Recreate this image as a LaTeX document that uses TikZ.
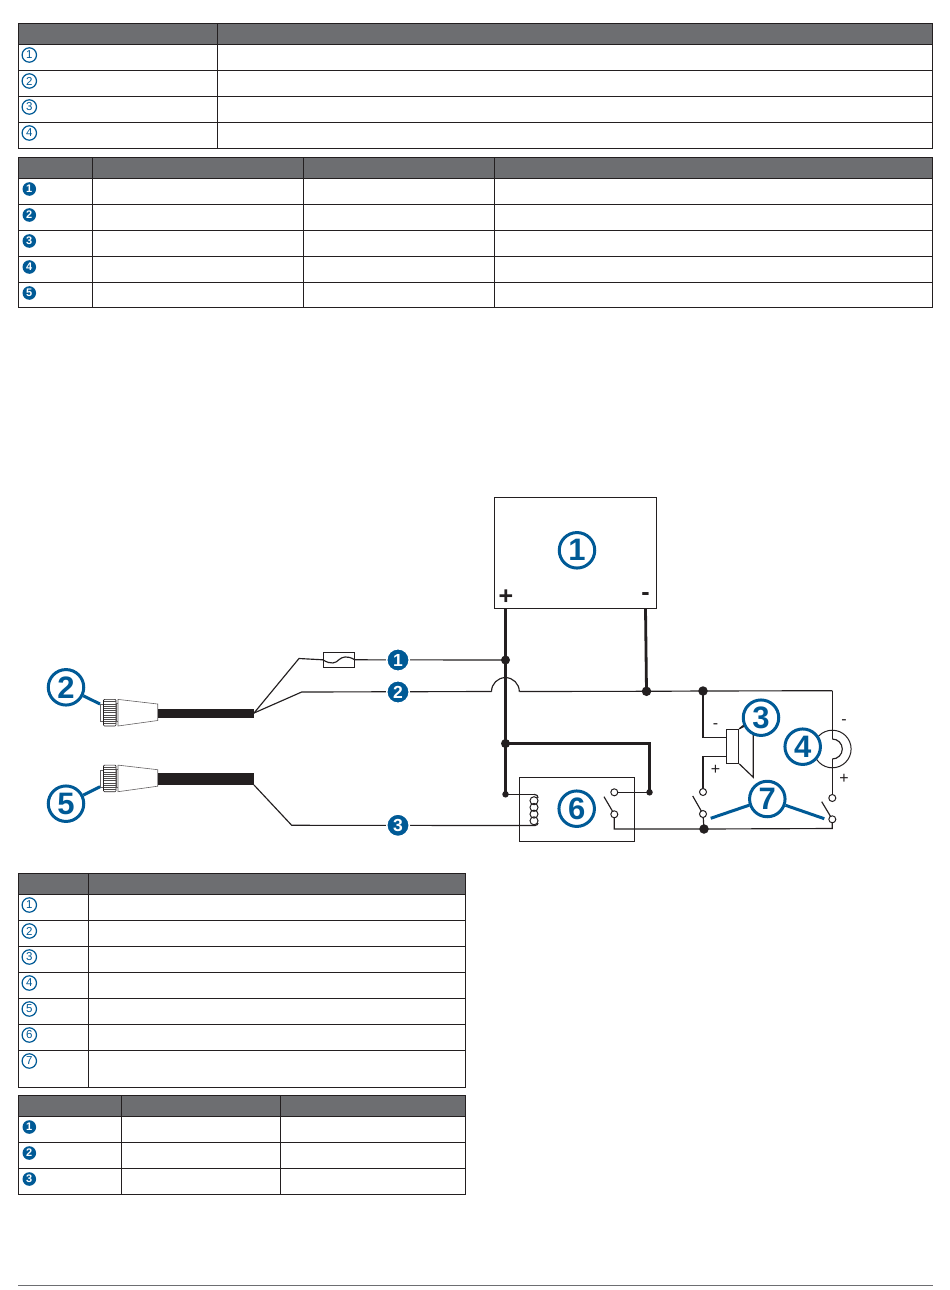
\documentclass[tikz,border=0pt]{standalone}
\usepackage{fontspec}
\setmainfont{Liberation Sans}
\definecolor{hdr}{HTML}{6D6E71}
\definecolor{ink}{HTML}{231F20}
\definecolor{gblue}{HTML}{005A96}
\tikzset{
  rule/.style={draw=ink,line width=0.9pt},
  head/.style={fill=hdr,draw=ink,line width=0.9pt},
  wirethin/.style={draw=ink,line width=1.15pt},
  wirethick/.style={draw=ink,line width=3.1pt},
  jdot/.style={circle,fill=ink,inner sep=0pt,minimum size=9pt},
  jbig/.style={circle,fill=ink,inner sep=0pt,minimum size=9.5pt},
  jsmall/.style={circle,fill=ink,inner sep=0pt,minimum size=6.5pt},
  term/.style={circle,draw=ink,fill=white,line width=1pt,inner sep=0pt,minimum size=7pt},
  callout/.style={circle,draw=gblue,line width=3pt,fill=white,inner sep=0pt,minimum size=35.5pt,text=gblue,font=\bfseries\fontsize{31}{31}\selectfont},
  leader/.style={draw=gblue,line width=3pt},
  wirelabel/.style={circle,fill=gblue,draw=white,line width=1.5pt,inner sep=0pt,minimum size=22.5pt,text=white,font=\bfseries\fontsize{17.5}{17.5}\selectfont},
  openmark/.style={circle,draw=gblue,line width=1.2pt,fill=white,inner sep=0pt,minimum size=14.4pt,text=gblue,font=\fontsize{11.5}{11.5}\selectfont},
  solidmark/.style={circle,fill=gblue,inner sep=0pt,minimum size=13.6pt,text=white,font=\bfseries\fontsize{11}{11}\selectfont},
  sign/.style={inner sep=0pt,text=ink,font=\fontsize{16}{16}\selectfont},
  bigsign/.style={inner sep=0pt,text=ink,font=\bfseries\fontsize{25}{25}\selectfont},
  plug/.pic={
    \draw[ink!70,line width=0.6pt,fill=white] (100,-8.5) rectangle (103.5,8.5);
    \draw[ink!70,line width=0.6pt,fill=white] (116,-9) rectangle (118,9);
    \draw[ink,line width=0.6pt,fill=white,rounded corners=1pt] (103.5,-13.3) rectangle (116,13.3);
    \foreach \k in {-11,-8.8,-6.6,-4.4,-2.2,0,2.2,4.4,6.6,8.8,11}
      \draw[ink!80,line width=0.45pt] (103.5,\k) -- (116,\k);
    \draw[ink!70,line width=0.6pt,fill=white] (118,-13.3) -- (157.7,-8.7) -- (157.7,7.8) -- (118,13.3) -- cycle;
  }
}
\begin{document}
\begin{tikzpicture}[x=1pt,y=-1pt]
\useasboundingbox (0,0) rectangle (950,1290);
\fill[white] (0,0) rectangle (950,1290);
% ---------- table 1
\draw[head] (18.3,23.7) rectangle (932.5,44.3);
\draw[rule] (18.3,44.3) rectangle (932.5,148.3);
\draw[rule] (18.3,70.3) -- (932.5,70.3) (18.3,96.3) -- (932.5,96.3) (18.3,122.3) -- (932.5,122.3);
\draw[rule] (217.6,23.7) -- (217.6,148.3);
\foreach \t/\yy in {1/55,2/81,3/107,4/133}
  \node[openmark] (ta\t) at (29.3,\yy) {\t};
% ---------- table 2
\draw[head] (18.3,157.2) rectangle (932.5,178.3);
\draw[rule] (18.3,178.3) rectangle (932.5,307.4);
\draw[rule] (18.3,204.3) -- (932.5,204.3) (18.3,230.3) -- (932.5,230.3) (18.3,256.3) -- (932.5,256.3) (18.3,282.3) -- (932.5,282.3);
\draw[rule] (92.4,157.2) -- (92.4,307.4) (303,157.2) -- (303,307.4) (494,157.2) -- (494,307.4);
\foreach \t/\yy in {1/189,2/215,3/241,4/267,5/293}
  \node[solidmark] (tb\t) at (29.3,\yy) {\t};
% ---------- table 3
\draw[head] (18.3,873.3) rectangle (465.5,894.3);
\draw[rule] (18.3,894.3) rectangle (465.5,1087.3);
\draw[rule] (18.3,920.3) -- (465.5,920.3) (18.3,946.3) -- (465.5,946.3) (18.3,972.3) -- (465.5,972.3) (18.3,998.3) -- (465.5,998.3) (18.3,1024.3) -- (465.5,1024.3) (18.3,1050.3) -- (465.5,1050.3);
\draw[rule] (88.3,873.3) -- (88.3,1087.3);
\foreach \t/\yy in {1/905,2/931,3/957,4/983,5/1009,6/1035,7/1061}
  \node[openmark] (tc\t) at (29.3,\yy) {\t};
% ---------- table 4
\draw[head] (18.3,1095.2) rectangle (465.5,1116.3);
\draw[rule] (18.3,1116.3) rectangle (465.5,1194.3);
\draw[rule] (18.3,1142.3) -- (465.5,1142.3) (18.3,1168.3) -- (465.5,1168.3);
\draw[rule] (121.7,1095.2) -- (121.7,1194.3) (280.7,1095.2) -- (280.7,1194.3);
\foreach \t/\yy in {1/1127,2/1153,3/1179}
  \node[solidmark] (td\t) at (29.3,\yy) {\t};
% ---------- footer
\draw[draw=hdr,line width=1pt] (18.3,1285.5) -- (932.5,1285.5);
% ---------- key points
\coordinate (plus) at (505.5,608.3);
\coordinate (minus) at (645.5,608.3);
\coordinate (jA) at (505.5,660);
\coordinate (jB) at (505.5,743.5);
\coordinate (jC) at (505.5,794.3);
\coordinate (jD) at (646.5,691.3);
\coordinate (jE) at (703,691);
\coordinate (jF) at (649.5,792.3);
\coordinate (jG) at (704,829);
\coordinate (capA) at (254,713);
\coordinate (capB) at (254,779);
\coordinate (bendA) at (299,658.5);
\coordinate (bendB) at (301.7,692);
\coordinate (bendC) at (291.7,825.3);
\coordinate (hopL) at (491.5,691.5);
\coordinate (hopR) at (519.3,691.5);
\coordinate (cornerR) at (832.3,690.7);
\coordinate (coilB) at (535,825.5);
\coordinate (coilT) at (534,794.3);
% ---------- box 1
\node[draw=ink,line width=1pt,fill=white,minimum width=162pt,minimum height=111pt,inner sep=0pt] (box) at (575.4,552.9) {};
\node[bigsign] (pl) at (505.8,597) {+};
\node[bigsign] (mi) at (645.5,596.5) {-};
% ---------- plugs and cables
\path (0,712.7) pic {plug};
\path (0,778.4) pic {plug};
\fill[ink] (157.7,709) rectangle (254,717.7);
\fill[ink] (157.7,773.3) rectangle (254,785);
% ---------- fuse
\node[draw=ink,line width=0.9pt,fill=white,minimum width=31pt,minimum height=15pt,inner sep=0pt] (fuse) at (338.8,659.8) {};
\draw[wirethin] (fuse.west) .. controls (331,665) and (336,663) .. (fuse.center) .. controls (342,657) and (347,655) .. (fuse.east);
% ---------- thin wires
\draw[wirethin] (capA) -- (bendA) -- (fuse.west);
\draw[wirethin] (fuse.east) -- (jA);
\draw[wirethin] (capA) -- (bendB) -- (hopL);
\draw[wirethin] (hopL) arc[start angle=180,end angle=360,radius=13.9];
\draw[wirethin] (hopR) -- (jD) -- (jE) -- (cornerR);
\draw[wirethin] (254,785) -- (bendC) -- (coilB);
\draw[wirethin] (jC) -- (coilT);
% speaker wires
\coordinate (spkT) at (726.7,737.3);
\coordinate (spkB) at (726.7,756.3);
\coordinate (sw1T) at (703,792);
\coordinate (sw1B) at (703,814);
\coordinate (sw2T) at (832.3,798);
\coordinate (sw2B) at (832.3,819.3);
\coordinate (busR) at (832.3,828.5);
\coordinate (relOut) at (614.3,829);
\coordinate (relT) at (614.3,792.3);
\coordinate (relB) at (614.3,814.3);
\draw[wirethin] (jE) |- (spkT);
\draw[wirethin] (spkB) -| (sw1T);
\draw[wirethin] (sw1B) -- (jG);
\draw[wirethin] (relB) -- (relOut) -- (jG) -- (busR) -- (sw2B);
% relay box
\node[draw=ink,line width=0.9pt,minimum width=115pt,minimum height=63.7pt,inner sep=0pt] (relay) at (576.8,809.2) {};
% horn
\draw[draw=ink,line width=1pt,fill=white] (832.3,749) circle[radius=18.8];
\draw[wirethin] (832.3,739) arc[start angle=270,end angle=450,radius=10];
\draw[wirethin] (cornerR) -- (832.3,739);
\draw[wirethin] (832.3,759) -- (sw2T);
% speaker
\node[draw=ink,line width=1pt,fill=white,minimum width=12pt,minimum height=34pt,inner sep=0pt] (spk) at (732.7,746.3) {};
\draw[wirethin] (spk.north east) -- (753.3,717) -- (753.3,777.3) -- (spk.south east);
% thick wires
\draw[wirethick] (plus) -- (jC);
\draw[wirethick,line width=2.8pt] (minus) -- (jD);
\draw[wirethick] (jB) -| (jF);
\draw[wirethin] (relT) -- (jF);
% coil
\foreach \k in {800.7,807.4,814.1,820.8}
  \draw[draw=ink,line width=1pt] (534,\k) circle[radius=4];
\draw[wirethin] (coilT) .. controls (537,794.3) and (538,796) .. (538,798);
\draw[wirethin] (coilB) .. controls (537,825.5) and (538,824) .. (538,823);
% junction dots
\node[jdot] (dA) at (jA) {};
\node[jdot] (dB) at (jB) {};
\node[jsmall] (dC) at (jC) {};
\node[jbig] (dD) at (jD) {};
\node[jbig] (dE) at (jE) {};
\node[jsmall] (dF) at (jF) {};
\node[jbig] (dG) at (jG) {};
% switches
\draw[wirethin] (692.7,796) -- (sw1B);
\draw[wirethin] (821.7,801.7) -- (sw2B);
\draw[wirethin] (604,796.7) -- (relB);
\node[term] (t1) at (sw1T) {};
\node[term] (t2) at (sw1B) {};
\node[term] (t3) at (sw2T) {};
\node[term] (t4) at (sw2B) {};
\node[term] (t5) at (relT) {};
\node[term] (t6) at (relB) {};
% signs
\node[sign] (s1) at (715.5,726) {-};
\node[sign] (s2) at (715.5,769.5) {+};
\node[sign] (s3) at (844,722) {-};
\node[sign] (s4) at (844,778.5) {+};
% callouts
\node[callout] (c1) at (577,550.3) {1};
\node[callout] (c2) at (66,687.3) {2};
\node[callout] (c3) at (761,717.7) {3};
\node[callout] (c4) at (802.7,746.7) {4};
\node[callout] (c5) at (66,803.7) {5};
\node[callout] (c6) at (576.7,808.7) {6};
\node[callout] (c7) at (767.3,799) {7};
\coordinate (l2) at (100,704);
\coordinate (l5) at (100,786.7);
\coordinate (l7a) at (710.7,818.3);
\coordinate (l7b) at (824.3,818.7);
\draw[leader] (c2) -- (l2);
\draw[leader] (c5) -- (l5);
\draw[leader] (c7) -- (l7a);
\draw[leader] (c7) -- (l7b);
\draw[wirethin] (spk.north east) -- (c3);
% wire labels
\node[wirelabel] (w1) at (398,660) {1};
\node[wirelabel] (w2) at (398,692) {2};
\node[wirelabel] (w3) at (398,825.3) {3};
\end{tikzpicture}
\end{document}
